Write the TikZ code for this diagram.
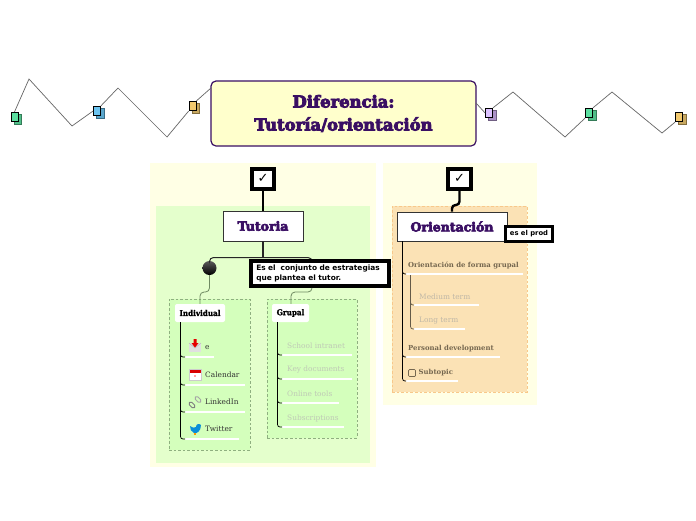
\documentclass[tikz,border=0pt]{standalone}
\usepackage{fontspec}
\setmainfont{DejaVu Serif}
\newfontfamily\heavy[FakeBold=5]{DejaVu Serif Bold}
\newfontfamily\condfont[FakeBold=1.2]{DejaVu Serif Condensed Bold}
\newfontfamily\slab{DejaVu Serif}
\newfontfamily\sans{DejaVu Sans}
\definecolor{titlec}{HTML}{3A0F63}
\definecolor{titlef}{HTML}{FFFFCC}
\definecolor{panel}{HTML}{FFFFE5}
\definecolor{greenp}{HTML}{E4FFCC}
\definecolor{greeng}{HTML}{D4FFBC}
\definecolor{orangep}{HTML}{FBE2B5}
\definecolor{orangeb}{HTML}{F8C88A}
\definecolor{dashg}{HTML}{8FAF80}
\definecolor{branch}{HTML}{6F8A62}
\definecolor{graytxt}{HTML}{BFC9B6}
\definecolor{graytxo}{HTML}{BFB7A6}
\definecolor{brtxt}{HTML}{75674F}
\definecolor{gf}{HTML}{5BE0A0}\definecolor{gb}{HTML}{50BE88}
\definecolor{bf}{HTML}{6CC4F0}\definecolor{bb}{HTML}{5AA6CC}
\definecolor{yf}{HTML}{F2C96E}\definecolor{yb}{HTML}{C8A860}
\definecolor{pf}{HTML}{DCC2FF}\definecolor{pb}{HTML}{AC92C8}
\tikzset{
  zig/.style={draw=black!60,line width=.7pt,line join=miter},
  bgpanel/.style={fill=panel,draw=none,inner sep=0pt},
  grpbox/.style={draw=dashg,dash pattern=on 2.6pt off 2pt,line width=.8pt,fill=greeng,inner sep=0pt},
  chk/.style={draw=black,fill=white,line width=4pt,minimum width=22.5pt,minimum height=20pt,inner sep=0pt,font=\sans\fontsize{13}{13}\selectfont},
  mainbox/.style={draw=black!80,fill=white,line width=.9pt,inner sep=0pt,text=titlec,font=\heavy\fontsize{12.5}{14}\selectfont},
  notebox/.style={draw=black,fill=white,line width=3.6pt,inner sep=0pt,align=left,font=\sans\bfseries\fontsize{7.4}{10}\selectfont},
  pill/.style={fill=white,rounded corners=2pt,inner sep=0pt,font=\condfont\fontsize{8}{9}\selectfont},
  lbl/.style={anchor=west,inner sep=0pt,font=\slab\fontsize{7.4}{9}\selectfont},
  lblb/.style={anchor=west,inner sep=0pt,text=brtxt,font=\slab\bfseries\fontsize{6.9}{9}\selectfont},
  tree/.style={draw=black,line width=.7pt,rounded corners=2.5pt},
  treeb/.style={draw=black!60!orangep,line width=.7pt,rounded corners=2.5pt},
  uline/.style={draw=white,line width=1.3pt},
  thick1/.style={draw=black,line width=2.4pt,rounded corners=3.5pt},
  branchl/.style={draw=branch,line width=.8pt,rounded corners=4pt}
}
% \sheet{name}{x}{y}{front colour}{back colour}
\newcommand{\sheet}[5]{%
  \draw[#5!65!black,fill=#5,line width=.7pt] (#2-1.2,#3-2.5) rectangle ++(7.4,9.8);
  \node[draw=black,line width=.8pt,fill=#4,minimum width=7pt,minimum height=9.4pt,inner sep=0pt] (#1) at (#2-1,#3) {};
}
\begin{document}
\begin{tikzpicture}[x=1pt,y=-1pt]
\useasboundingbox (0,0) rectangle (696,520);
\fill[white] (0,0) rectangle (696,520);
% panels
\node[bgpanel,minimum width=226pt,minimum height=304pt] (panelL) at (263,315) {};
\node[bgpanel,minimum width=154pt,minimum height=242pt] (panelR) at (460,284) {};
\node[fill=greenp,inner sep=0pt,minimum width=214pt,minimum height=257pt] (greenL) at (263,334.5) {};
\node[fill=orangep,draw=orangeb,dash pattern=on 2.6pt off 2pt,line width=.8pt,inner sep=0pt,minimum width=135pt,minimum height=186pt] (orangeR) at (459.5,299) {};
\node[grpbox,minimum width=81pt,minimum height=151pt] (grpI) at (209.5,374.5) {};
\node[grpbox,minimum width=90pt,minimum height=139pt] (grpG) at (312,368.5) {};
% title
\node[draw=titlec,fill=titlef,line width=1.2pt,rounded corners=5pt,minimum width=265pt,minimum height=65pt,inner sep=0pt,align=center,text=titlec,font=\heavy\fontsize{16.4}{23}\selectfont] (title) at (343.5,113.5) {Diferencia:\\Tutoría/orientación};
% zigzag coordinates
\coordinate (a1) at (29,79); \coordinate (a2) at (72,126); \coordinate (a3) at (118,88); \coordinate (a4) at (167,137);
\coordinate (b1) at (513,92); \coordinate (b2) at (565,137); \coordinate (b3) at (612,92); \coordinate (b4) at (662,133);
\coordinate (tl) at (211,88); \coordinate (tr) at (476,103);
\sheet{s1}{15.5}{117}{gf}{gb}
\sheet{s2}{98}{111}{bf}{bb}
\sheet{s3}{193.5}{106}{yf}{yb}
\sheet{s4}{490}{113}{pf}{pb}
\sheet{s5}{590}{113}{gf}{gb}
\sheet{s6}{680}{117}{yf}{yb}
\draw[zig] (s1.north) -- (a1) -- (a2) -- (s2.west);
\draw[zig] (s2.north east) -- (a3) -- (a4) -- (s3.south west);
\draw[zig] (s3.north east) -- (tl);
\draw[zig] (tr) -- (s4.west);
\draw[zig] (s4.north east) -- (b1) -- (b2) -- (s5.south west);
\draw[zig] (s5.north east) -- (b3) -- (b4) -- (s6.south west);
% left column
\node[chk] (c1) at (263,178.5) {✓};
\node[mainbox,minimum width=80pt,minimum height=30pt] (tut) at (263,226) {Tutoria};
\draw[thick1] (c1.south) -- (tut.north);
\coordinate (jL) at (263,257.5);
\node[circle,inner sep=0pt,minimum size=14pt,top color=black!65,bottom color=black] (ball) at (209.5,268) {};
\draw[draw=black!85,line width=1.3pt] (tut.south) -- (jL);
\draw[draw=black!85,line width=1pt,rounded corners=4pt] (ball.north) |- (jL) -| (312,264);
\node[notebox,minimum width=138pt,minimum height=25pt,text width=128pt] (note) at (320.25,273.5) {Es el~ conjunto de estrategias\\que plantea el tutor.};
\node[pill,minimum width=50pt,minimum height=18pt] (ind) at (200,313) {Individual};
\node[pill,minimum width=37pt,minimum height=18pt] (gru) at (290.5,313) {Grupal};
\coordinate (m1) at (209.5,292); \coordinate (m2) at (200,292);
\draw[branchl] (ball.south) -- (m1) -- (m2) -- (ind.north);
\coordinate (m3) at (312,292); \coordinate (m4) at (291,292);
\draw[branchl] (note.south -| m3) -- (m3) -- (m4) -- (gru.north -| m4);
% individual leaves
\node[lbl,text=black!80] (l1) at (205,348) {e};
\node[lbl,text=black!80] (l2) at (205,375) {Calendar};
\node[lbl,text=black!80] (l3) at (205,402) {LinkedIn};
\node[lbl,text=black!80] (l4) at (205,429) {Twitter};
\coordinate (i0) at (180.5,322);
\coordinate (u1) at (185,357); \coordinate (u1e) at (214,357);
\coordinate (u2) at (185,385); \coordinate (u2e) at (245,385);
\coordinate (u3) at (185,412); \coordinate (u3e) at (245,412);
\coordinate (u4) at (185,439); \coordinate (u4e) at (239,439);
\foreach \n in {1,2,3,4}{\draw[uline] (u\n) -- (u\n e); \draw[tree] (i0) |- (u\n);}
% icons
\fill[black!12] (189,343) rectangle (201,352);
\draw[black!30,line width=.4pt] (189,343) -- (195,348) -- (201,343);
\fill[red!90!black] (193.5,339) rectangle (196.5,343) (191.5,343) -- (198.5,343) -- (195,347.5) -- cycle;
\fill[white] (189.5,369) rectangle (201,380.5);
\fill[red!85!black] (189.5,369) rectangle (201,372.5);
\draw[black!20,line width=.3pt] (189.5,369) rectangle (201,380.5);
\fill[red!35] (194,375) rectangle (196,377);
\draw[black!50,line width=.9pt,rounded corners=1.5pt,rotate around={-45:(192,405)}] (188.5,403.3) rectangle (195.5,406.7);
\draw[black!35,line width=.9pt,rounded corners=1.5pt,rotate around={-45:(198,399.5)}] (194.5,397.8) rectangle (201.5,401.2);
\fill[cyan!75!blue] (190,426) .. controls (193,428) and (195,428) .. (196,427) .. controls (196,424) and (199,423) .. (201,425) .. controls (201,431) and (197,434) .. (194,433) .. controls (191,432) and (190,429) .. (190,426) -- cycle;
\fill[orange!80!yellow] (194,433) rectangle (195.5,435);
% grupal leaves
\node[lbl,text=graytxt] (g1) at (287,346) {School intranet};
\node[lbl,text=graytxt] (g2) at (287,370) {Key documents};
\node[lbl,text=graytxt] (g3) at (287,394) {Online tools};
\node[lbl,text=graytxt] (g4) at (287,418) {Subscriptions};
\coordinate (g0) at (277.5,322);
\coordinate (v1) at (282,355); \coordinate (v1e) at (352,355);
\coordinate (v2) at (282,379); \coordinate (v2e) at (352,379);
\coordinate (v3) at (282,403); \coordinate (v3e) at (339,403);
\coordinate (v4) at (282,427); \coordinate (v4e) at (344,427);
\foreach \n in {1,2,3,4}{\draw[uline] (v\n) -- (v\n e); \draw[tree] (g0) |- (v\n);}
% right column
\node[chk] (c2) at (459.5,178.5) {✓};
\node[mainbox,minimum width=110pt,minimum height=29pt] (ori) at (452,226.5) {Orientación};
\coordinate (k1) at (459.5,205);
\coordinate (k2) at (452,205);
\draw[thick1] (c2.south) -- (k1) -- (k2) -- (ori.north);
\node[notebox,minimum width=47pt,minimum height=15.5pt,line width=3pt,font=\sans\bfseries\fontsize{6.8}{8}\selectfont] (prod) at (529,234) {es el prod};
\coordinate (o0) at (402.5,241);
\coordinate (w1) at (406,274); \coordinate (w1e) at (522.5,274);
\coordinate (w2) at (406,357); \coordinate (w2e) at (500,357);
\coordinate (w3) at (406,381); \coordinate (w3e) at (458,381);
\foreach \n in {1,2,3}{\draw[uline] (w\n) -- (w\n e); \draw[tree] (o0) |- (w\n);}
\node[lblb] (o1) at (408,266) {Orientación de forma grupal};
\node[lblb] (o2) at (408,349) {Personal development};
\node[draw=brtxt,line width=.7pt,rounded corners=1pt,minimum size=7pt,inner sep=0pt] (cb) at (412,373) {};
\node[lblb] (o3) at (418.5,373) {Subtopic};
\node[lbl,text=graytxo] (o4) at (419,297) {Medium term};
\node[lbl,text=graytxo] (o5) at (419,321) {Long term};
\coordinate (p0) at (410.5,275);
\coordinate (x1) at (414,305); \coordinate (x1e) at (479,305);
\coordinate (x2) at (414,329); \coordinate (x2e) at (465,329);
\foreach \n in {1,2}{\draw[uline] (x\n) -- (x\n e); \draw[treeb] (p0) |- (x\n);}
\end{tikzpicture}
\end{document}
